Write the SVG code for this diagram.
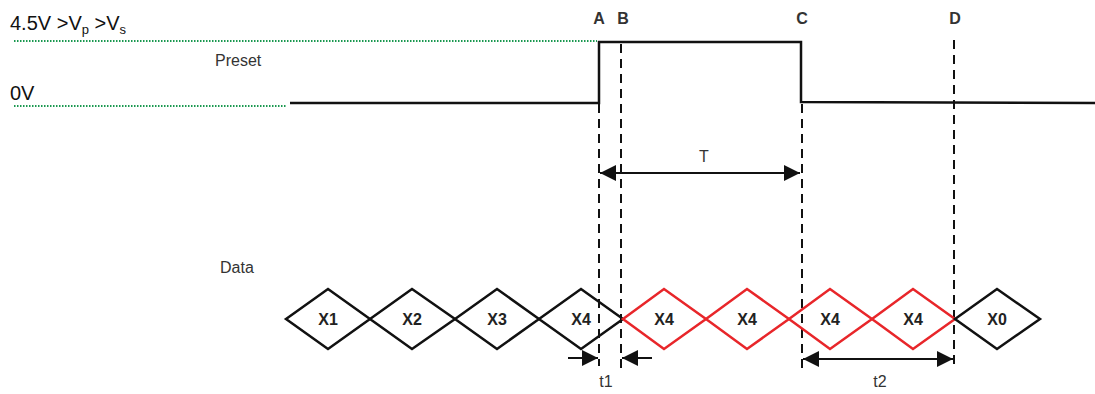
<svg xmlns="http://www.w3.org/2000/svg" width="1095" height="394" viewBox="0 0 1095 394">
<style>
.lbl{font-family:"Liberation Sans",Arial,sans-serif;font-size:16px;fill:#333}
.big{font-family:"Liberation Sans",Arial,sans-serif;font-size:20px;fill:#111}
.mk{font-family:"Liberation Sans",Arial,sans-serif;font-size:16px;font-weight:bold;fill:#333;text-anchor:middle}
.dt{font-family:"Liberation Sans",Arial,sans-serif;font-size:16px;font-weight:bold;fill:#222;text-anchor:middle}
.dk{fill:none;stroke:#111;stroke-width:2.5;stroke-linejoin:miter}
.rd{fill:none;stroke:#e8262a;stroke-width:2.5}
.dash{stroke:#111;stroke-width:2;stroke-dasharray:9,6;fill:none}
.dot{stroke:#1a9850;stroke-width:2;stroke-dasharray:1.5,1.5;fill:none}
.arr{stroke:#111;stroke-width:2;fill:none}
</style>
<defs>
<marker id="ah" viewBox="0 0 10 10" refX="10" refY="5" markerWidth="16" markerHeight="16" markerUnits="userSpaceOnUse" orient="auto-start-reverse">
<path d="M0,0 L10,5 L0,10 z" fill="#111"/>
</marker>
</defs>
<g id="levels">
<text class="big" x="10" y="30">4.5V &gt;V<tspan font-size="13" dy="4">p</tspan><tspan dy="-4"> &gt;V</tspan><tspan font-size="13" dy="4">s</tspan></text>
<line class="dot" x1="14" y1="41" x2="597" y2="41"/>
<text class="big" x="10" y="100">0V</text>
<line class="dot" x1="14" y1="106" x2="287" y2="106"/>
<text class="lbl" x="215" y="66">Preset</text>
<text class="lbl" x="220" y="273">Data</text>
</g>
<g id="preset">
<polyline class="dk" points="290,103 599,103 599,42 801,42 801,102 1095,103"/>
</g>
<g id="markers">
<text class="mk" x="599" y="24">A</text>
<text class="mk" x="623" y="24">B</text>
<text class="mk" x="802" y="24">C</text>
<text class="mk" x="955" y="24">D</text>
</g>
<g id="connectors">
<line class="dash" x1="599" y1="104" x2="599" y2="366"/>
<line class="dash" x1="621" y1="44" x2="621" y2="370"/>
<line class="dash" x1="802" y1="104" x2="802" y2="370"/>
<line class="dash" x1="954" y1="40" x2="954" y2="370"/>
<line class="arr" x1="600" y1="173" x2="800" y2="173" marker-start="url(#ah)" marker-end="url(#ah)"/>
<line class="arr" x1="568" y1="358" x2="598" y2="358" marker-end="url(#ah)"/>
<line class="arr" x1="652" y1="358" x2="622" y2="358" marker-end="url(#ah)"/>
<line class="arr" x1="803" y1="359" x2="953" y2="359" marker-start="url(#ah)" marker-end="url(#ah)"/>
<text class="lbl" x="704" y="162" text-anchor="middle">T</text>
<text class="lbl" x="606" y="387" text-anchor="middle">t1</text>
<text class="lbl" x="880" y="387" text-anchor="middle">t2</text>
</g>
<g id="d1"><polygon class="dk" points="286,319 328,289 370,319 328,349"/><text class="dt" x="328" y="325">X1</text></g>
<g id="d2"><polygon class="dk" points="370,319 412,289 455,319 412,349"/><text class="dt" x="412" y="325">X2</text></g>
<g id="d3"><polygon class="dk" points="455,319 497,289 539,319 497,349"/><text class="dt" x="497" y="325">X3</text></g>
<g id="d4"><polygon class="dk" points="539,319 581,289 623,319 581,349"/><text class="dt" x="581" y="325">X4</text></g>
<g id="d5"><polygon class="rd" points="623,319 664,289 706,319 664,349"/><text class="dt" x="664" y="325">X4</text></g>
<g id="d6"><polygon class="rd" points="706,319 747,289 789,319 747,349"/><text class="dt" x="747" y="325">X4</text></g>
<g id="d7"><polygon class="rd" points="789,319 830,289 872,319 830,349"/><text class="dt" x="830" y="325">X4</text></g>
<g id="d8"><polygon class="rd" points="872,319 913,289 955,319 913,349"/><text class="dt" x="913" y="325">X4</text></g>
<g id="d9"><polygon class="dk" points="955,319 997,289 1040,319 997,349"/><text class="dt" x="997" y="325">X0</text></g>
</svg>
